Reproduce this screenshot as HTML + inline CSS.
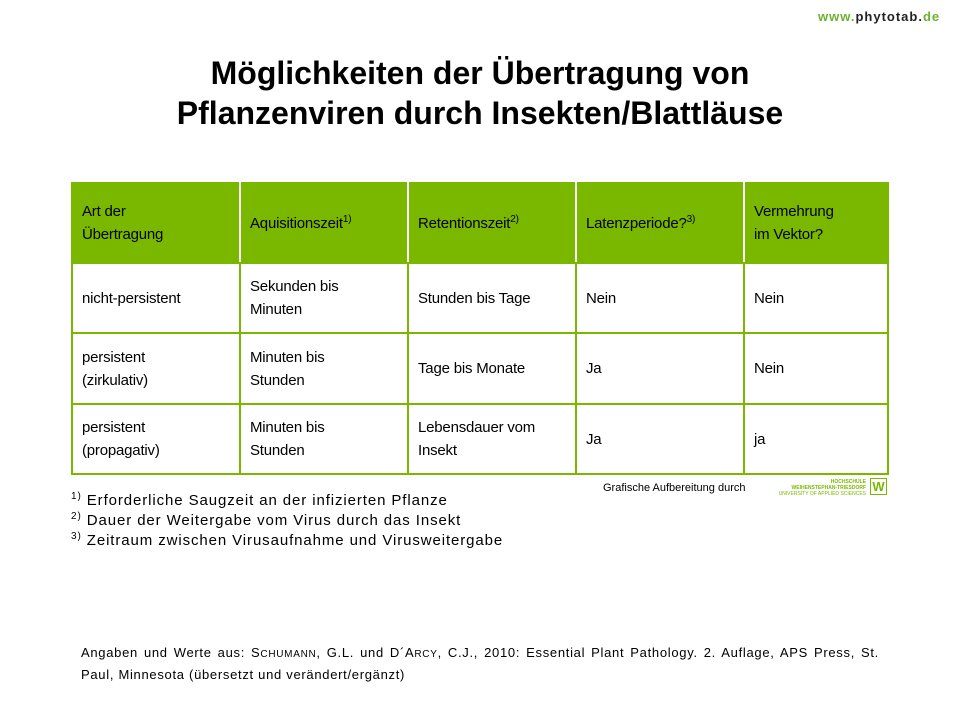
<!DOCTYPE html>
<html><head><meta charset="utf-8"><style>
body{margin:0;width:960px;height:720px;background:#fff;position:relative;font-family:"Liberation Sans",sans-serif;color:#000;overflow:hidden}
.a{position:absolute}
table{position:absolute;left:71px;top:182px;border-collapse:collapse;table-layout:fixed}
td{border:2px solid #7ab800;font-size:15px;line-height:23px;padding:0 0 0 9px;vertical-align:middle;letter-spacing:-0.2px}
tr.h td{background:#7ab800;border-color:#7ab800;border-left:2px solid #fff;border-right:2px solid #fff}
tr.h td:first-child{border-left-color:#7ab800}tr.h td:last-child{border-right-color:#7ab800}
sup{font-size:10px;line-height:0}
.fn{font-size:15px;letter-spacing:0.9px;line-height:20px}
</style></head><body>
<div class="a" style="left:818px;top:9px;font-size:13px;font-weight:bold;letter-spacing:1px"><span style="color:#6bb22e">www.</span><span style="color:#222">phytotab.</span><span style="color:#6bb22e">de</span></div>
<div class="a" style="left:0;width:960px;top:53px;text-align:center;font-size:32px;font-weight:bold;line-height:40px;letter-spacing:0px">Möglichkeiten der Übertragung von<br>Pflanzenviren durch Insekten/Blattläuse</div>
<table>
<colgroup><col style="width:168px"><col style="width:168px"><col style="width:168px"><col style="width:168px"><col style="width:144px"></colgroup>
<tr class="h" style="height:80px"><td>Art der<br>Übertragung</td><td>Aquisitionszeit<sup>1)</sup></td><td>Retentionszeit<sup>2)</sup></td><td>Latenzperiode?<sup>3)</sup></td><td>Vermehrung<br>im Vektor?</td></tr>
<tr style="height:70px"><td>nicht-persistent</td><td>Sekunden bis<br>Minuten</td><td>Stunden bis Tage</td><td>Nein</td><td>Nein</td></tr>
<tr style="height:71px"><td>persistent<br>(zirkulativ)</td><td>Minuten bis<br>Stunden</td><td>Tage bis Monate</td><td>Ja</td><td>Nein</td></tr>
<tr style="height:70px"><td>persistent<br>(propagativ)</td><td>Minuten bis<br>Stunden</td><td>Lebensdauer vom<br>Insekt</td><td>Ja</td><td>ja</td></tr>
</table>
<div class="a fn" style="left:71px;top:491px"><sup>1)</sup> Erforderliche Saugzeit an der infizierten Pflanze<br><sup>2)</sup> Dauer der Weitergabe vom Virus durch das Insekt<br><sup>3)</sup> Zeitraum zwischen Virusaufnahme und Virusweitergabe</div>
<div class="a" style="left:603px;top:482px;font-size:11px">Grafische Aufbereitung durch</div>
<div class="a" style="left:772px;top:479px;width:94px;text-align:right;font-size:5px;line-height:6px;color:#7ab800;font-weight:bold">HOCHSCHULE<br>WEIHENSTEPHAN-TRIESDORF<br><span style="font-weight:normal">UNIVERSITY OF APPLIED SCIENCES</span></div>
<div class="a" style="left:870px;top:478px;width:15px;height:15px;border:1px solid #7ab800;color:#7ab800;font-size:13px;line-height:15px;text-align:center;font-weight:bold">W</div>
<div class="a" style="left:81px;top:643px;width:798px;font-size:13px;line-height:20px;letter-spacing:0.7px;text-align:justify">Angaben und Werte aus: S<span style="font-size:10px">CHUMANN</span>, G.L. und D´A<span style="font-size:10px">RCY</span>, C.J., 2010: Essential Plant Pathology. 2. Auflage, APS Press, St. Paul, Minnesota (übersetzt und verändert/ergänzt)</div>
</body></html>
